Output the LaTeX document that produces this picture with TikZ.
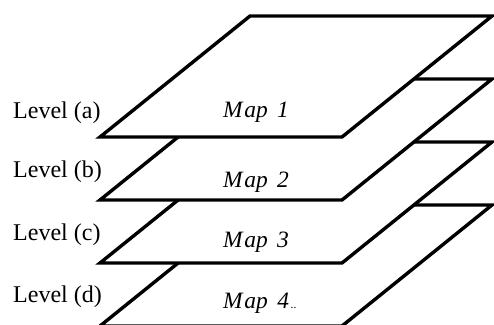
\documentclass[tikz,border=0pt]{standalone}
\usepackage{fontspec}
\setmainfont{Liberation Serif}
\tikzset{
  sheet/.style={draw=black,fill=white,line width=2.9pt,line join=miter},
  levellabel/.style={anchor=west,inner sep=0pt,font=\fontsize{20.5}{24}\selectfont},
  maplabel/.style={inner sep=0pt,font=\fontsize{20}{24}\selectfont\itshape}
}
\begin{document}
\begin{tikzpicture}[x=0.03cm,y=-0.03cm]
    % Khung hình
    \useasboundingbox (0,0) rectangle (494,324);

    % Vẽ các tấm bản đồ, từ dưới lên trên
    \foreach \i in {3,2,1,0}
    \filldraw[sheet] (100,{137+63*\i}) -- (342,{137+63*\i})
        -- (492,{16+63*\i}) -- (250,{16+63*\i}) -- cycle;

    % Tên các mức
    \foreach \lv/\y in {a/113,b/172,c/235,d/297}
    \node[levellabel] (level-\lv) at (13,\y) {Level (\lv)};

    % Tên các bản đồ
    \node[maplabel] (map1) at (256,112) {M\kern1.5pt ap\kern3pt\ 1};
    \node[maplabel] (map2) at (256,182) {M\kern1.5pt ap\kern3pt\ 2};
    \node[maplabel] (map3) at (256,242) {M\kern1.5pt ap\kern3pt\ 3};
    \node[maplabel] (map4) at (260,303) {M\kern1.5pt ap\kern3pt\ 4{\fontsize{10}{12}\selectfont\,..}};
\end{tikzpicture}
\end{document}
